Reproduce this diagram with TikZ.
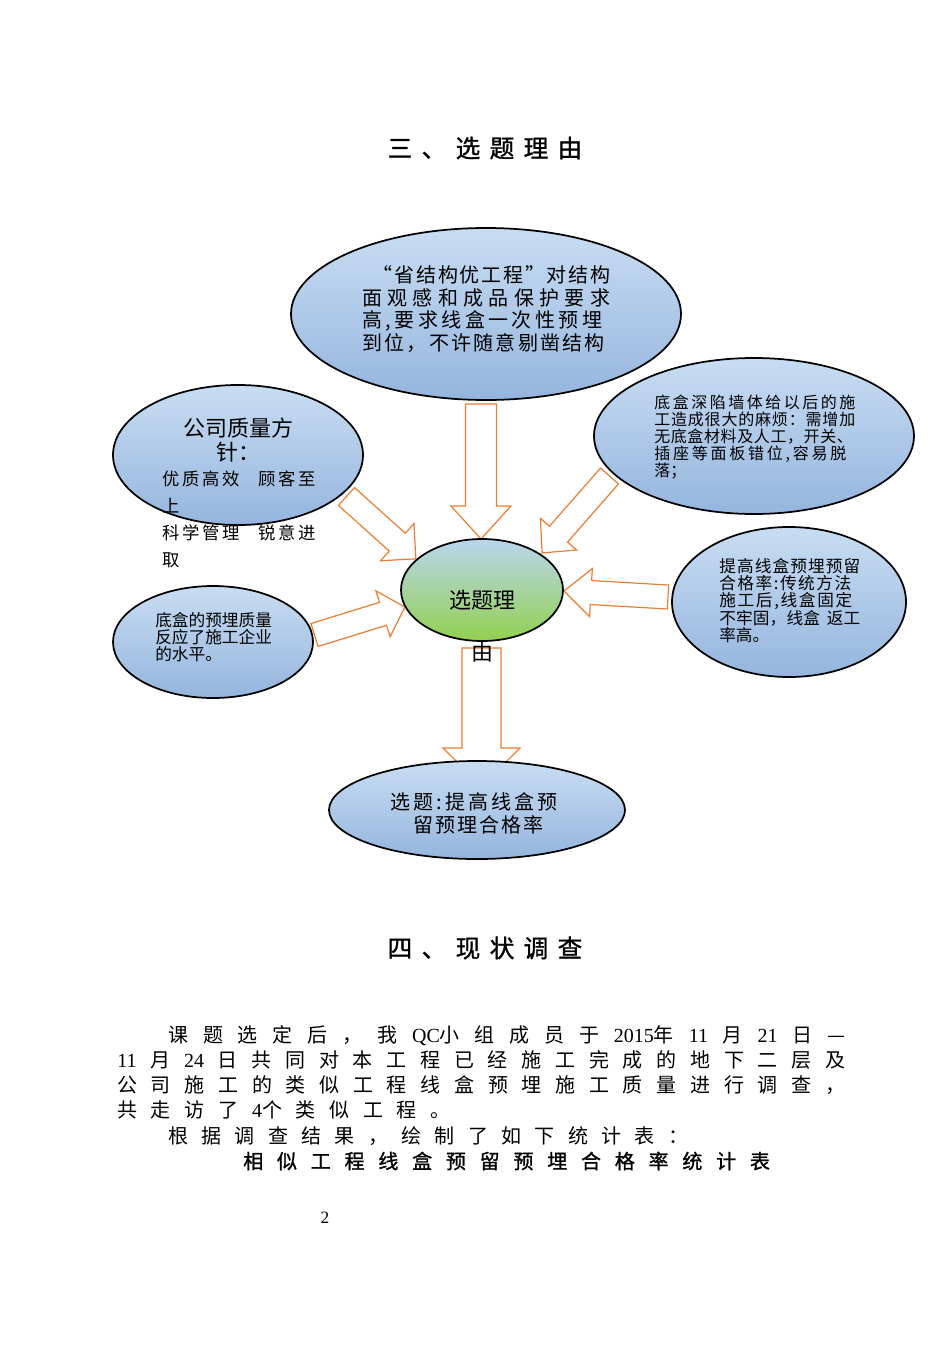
\documentclass[tikz,border=0pt]{standalone}
\usepackage{fontspec}
\setmainfont{Noto Sans CJK SC}
\newfontfamily\lib{Liberation Serif}
\newfontfamily\cjkb[FakeBold=1.2]{Noto Sans CJK SC}
\usetikzlibrary{shapes.geometric,calc}
\definecolor{ellTop}{RGB}{200,221,242}
\definecolor{ellBot}{RGB}{149,181,222}
\definecolor{grnTop}{RGB}{186,214,238}
\definecolor{grnBot}{RGB}{146,208,80}
\definecolor{arrOr}{RGB}{237,125,49}
\makeatletter
\def\sprd#1{\sprd@a#1\sprd@end}
\def\sprd@a#1#2\sprd@end{#1\if\relax\detokenize{#2}\relax\else\hfill\sprd@a#2\sprd@end\fi}
\makeatother
\newcommand\sline[2]{\makebox[#1][s]{\sprd{#2}}}
\newcommand\barrow[5]{%
 \draw[blockarr] let \p1=(#1), \p2=(#2), \n1={atan2(\y2-\y1,\x2-\x1)}, \n2={veclen(\x2-\x1,\y2-\y1)} in
 [shift={(\p1)}, rotate=\n1]
 (0pt,{-#3*0.75pt}) -- ({\n2-#5*0.75pt},{-#3*0.75pt}) -- ({\n2-#5*0.75pt},{-#4*0.75pt})
 -- ({\n2*1pt},0pt) -- ({\n2-#5*0.75pt},{#4*0.75pt}) -- ({\n2-#5*0.75pt},{#3*0.75pt})
 -- (0pt,{#3*0.75pt}) -- cycle;}
\tikzset{
 bubble/.style={ellipse, draw=black, line width=1.3pt, top color=ellTop, bottom color=ellBot, inner sep=0pt},
 blockarr/.style={draw=arrOr, fill=white, line width=0.9pt, line join=miter},
 txt/.style={inner sep=0pt, align=left},
}
\begin{document}
\begin{tikzpicture}[x=0.75pt,y=-0.75pt]
\useasboundingbox[fill=white] (0,0) rectangle (950,1346);
% titles
\node[inner sep=0pt] (t1) at (485,148) {\cjkb\fontsize{18.5}{18.5}\selectfont\sline{146pt}{三、选题理由}};
% arrow coordinates
\coordinate (a1s) at (481,404); \coordinate (a1e) at (481,539);
\coordinate (a2s) at (346.5,496.5); \coordinate (a2e) at (416,559);
\coordinate (a3s) at (609.5,476); \coordinate (a3e) at (542,553);
\coordinate (a4s) at (314.5,635); \coordinate (a4e) at (405,607);
\coordinate (a5s) at (668,597); \coordinate (a5e) at (564,591);
\coordinate (a6s) at (481.5,648); \coordinate (a6e) at (481.5,786);
\barrow{a1s}{a1e}{15.5}{30}{33}
\barrow{a2s}{a2e}{12}{25}{25}
\barrow{a3s}{a3e}{12}{24}{25}
\barrow{a4s}{a4e}{12}{24}{23}
\barrow{a5s}{a5e}{12}{24}{27}
\barrow{a6s}{a6e}{19.5}{38.5}{38}
% ellipses
\node[bubble, minimum width=292.5pt, minimum height=129pt] (top) at (486,314) {};
\node[bubble, minimum width=187.5pt, minimum height=105pt] (lft) at (238,455) {};
\node[bubble, minimum width=240pt, minimum height=117pt] (ru) at (754,436) {};
\node[bubble, minimum width=121.5pt, minimum height=76.5pt, top color=grnTop, bottom color=grnBot] (ctr) at (482,590) {};
\node[bubble, minimum width=175.5pt, minimum height=112.5pt] (rl) at (789,602) {};
\node[bubble, minimum width=150pt, minimum height=84pt] (ll) at (213,642) {};
\node[bubble, minimum width=222pt, minimum height=73.5pt] (bot) at (477,810) {};
% texts
\node[txt, anchor=west, font=\fontsize{15}{17}\selectfont] (toptxt) at (362,309)
 {\hspace*{8pt}\sline{178pt}{“省结构优工程”对结构}\\
  \sline{186pt}{面观感和成品保护要求}\\
  \sline{180pt}{高,要求线盒一次性预埋}\\
  \sline{182pt}{到位，不许随意剔凿结构}};
\node[inner sep=0pt, align=center, font=\fontsize{16.5}{18}\selectfont] (lfttitle) at (238,440) {公司质量方\\针：};
\node[txt, anchor=west, font=\fontsize{13}{20.25}\selectfont] (lftbody) at (162,519.5)
 {\makebox[115pt][s]{优\hfill 质\hfill 高\hfill 效\hspace*{12pt}\hfill 顾\hfill 客\hfill 至}\\
  上\\
  \makebox[115pt][s]{科\hfill 学\hfill 管\hfill 理\hspace*{12pt}\hfill 锐\hfill 意\hfill 进}\\
  取};
\node[txt, anchor=west, font=\fontsize{12}{12.75}\selectfont] (rutxt) at (654,437.5)
 {\sline{150.75pt}{底盒深陷墙体给以后的施}\\
  \sline{150.75pt}{工造成很大的麻烦：需增加}\\
  \sline{149pt}{无底盒材料及人工，开关、}\\
  \sline{144pt}{插座等面板错位,容易脱}\\
  落；};
\node[inner sep=0pt, font=\fontsize{16.5}{18}\selectfont] (ctrtxt) at (482,600) {选题理};
\node[inner sep=0pt, font=\fontsize{16.5}{18}\selectfont] (ctrtxt2) at (482,652) {由};
\node[txt, anchor=west, font=\fontsize{12.5}{12.75}\selectfont] (rltxt) at (719,600.5)
 {\sline{105.75pt}{提高线盒预埋预留}\\
  \sline{99pt}{合格率:传统方法}\\
  \sline{99.75pt}{施工后,线盒固定}\\
  \makebox[105.75pt][s]{不\hfill 牢\hfill 固\hfill ，\hfill 线\hfill 盒\hspace*{5pt}\hfill 返\hfill 工}\\
  率高。};
\node[txt, anchor=west, font=\fontsize{12.5}{12.75}\selectfont] (lltxt) at (155,637)
 {底盒的预埋质量\\反应了施工企业\\的水平。};
\node[inner sep=0pt, align=center, font=\fontsize{15}{17.25}\selectfont] (bottxt) at (474,813)
 {\sline{125pt}{选题:提高线盒预}\\ \hspace*{6pt}\sline{97.5pt}{留预理合格率}};
% section 4
\node[inner sep=0pt] (t2) at (485,948) {\cjkb\fontsize{18.5}{18.5}\selectfont\sline{146pt}{四、现状调查}};
\begin{scope}[every node/.style={inner sep=0pt, anchor=west, font=\fontsize{15}{15}\selectfont}]
\node (p1) at (168,1036) {\sline{507.75pt}{课题选定后，我{{\lib QC}小}组成员于{{\lib 2015}年}{{\lib 11}}月{{\lib 21}}日—}};
\node (p2) at (117,1060) {\sline{546pt}{{{\lib 11}}月{{\lib 24}}日共同对本工程已经施工完成的地下二层及}};
\node (p3) at (117,1085) {\sline{546pt}{公司施工的类似工程线盒预埋施工质量进行调查，}};
\node (p4) at (117,1110) {\sline{250pt}{共走访了{{\lib 4}个}类似工程。}};
\node (p5) at (168,1136) {\sline{390pt}{根据调查结果，绘制了如下统计表：}};
\node (p6) at (243,1161) {\cjkb\sline{395pt}{相似工程线盒预留预埋合格率统计表}};
\end{scope}
\node[inner sep=0pt, font=\lib\fontsize{13}{13}\selectfont] (pg) at (325,1218) {2};
\end{tikzpicture}
\end{document}
